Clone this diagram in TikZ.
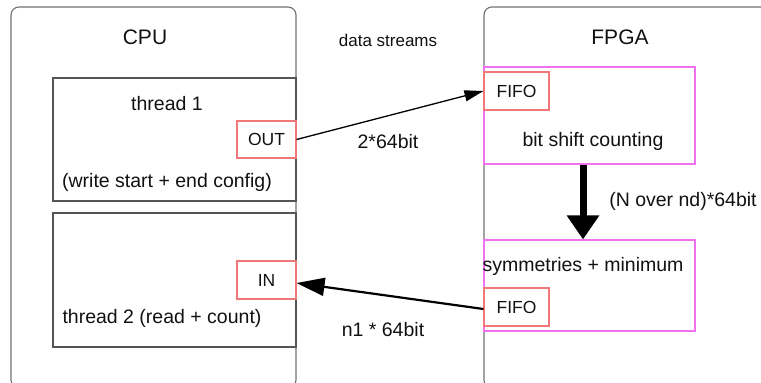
\documentclass[tikz,border=0pt]{standalone}
\usepackage{fontspec}
\setmainfont{Liberation Sans}
\usetikzlibrary{arrows.meta}
\definecolor{boxgray}{HTML}{707070}
\definecolor{thgray}{HTML}{555555}
\definecolor{fifored}{HTML}{F07878}
\definecolor{stagemag}{HTML}{F070F0}
\definecolor{txt}{HTML}{111111}
\tikzset{
  x=1pt, y=-1pt,
  outer/.style={draw=boxgray, line width=1.1pt, rounded corners=8pt, rectangle, inner sep=0pt},
  thread/.style={draw=thgray, line width=1.1pt, rectangle, inner sep=0pt},
  port/.style={draw=fifored, line width=1.1pt, rectangle, inner sep=0pt, text=txt, font=\fontsize{17.5}{20}\selectfont},
  stage/.style={draw=stagemag, line width=1.1pt, rectangle, inner sep=0pt},
  title/.style={text=txt, font=\fontsize{21}{24}\selectfont, inner sep=0pt},
  lbl/.style={text=txt, font=\fontsize{19.5}{22}\selectfont, inner sep=0pt},
  small/.style={text=txt, font=\fontsize{17}{19}\selectfont, inner sep=0pt},
}
\begin{document}
\begin{tikzpicture}
\useasboundingbox (0,0) rectangle (761,383);
\clip (0,0) rectangle (761,383);
% outer boxes
\node[outer, minimum width=285pt, minimum height=381pt] (cpu) at (153.5,197.5) {};
\node[outer, minimum width=291pt, minimum height=381pt] (fpga) at (629.5,197.5) {};
\node[title] (cputitle) at (145,37) {CPU};
\node[title] (fpgatitle) at (620,37) {FPGA};
% threads
\node[thread, minimum width=243pt, minimum height=123pt] (th1) at (174.5,139.5) {};
\node[thread, minimum width=243pt, minimum height=134pt] (th2) at (174.5,280) {};
\node[lbl] (th1t) at (167,104) {thread 1};
\node[lbl] (th1c) at (167,182) {(write start + end config)};
\node[lbl] (th2t) at (162,318) {thread 2 (read + count)};
\node[port, minimum width=59pt, minimum height=37pt] (out) at (266.5,139.5) {OUT};
\node[port, minimum width=59pt, minimum height=38pt] (in) at (266.5,280) {IN};
% FPGA stages
\node[stage, minimum width=211pt, minimum height=97pt] (s1) at (589.5,115.5) {};
\node[stage, minimum width=211pt, minimum height=91pt] (s2) at (589.5,285.5) {};
\node[port, minimum width=65pt, minimum height=38pt] (f1) at (516.5,91) {FIFO};
\node[port, minimum width=65pt, minimum height=38pt] (f2) at (516.5,307) {FIFO};
\node[lbl] (s1t) at (593,141) {bit shift counting};
\node[lbl] (s2t) at (583,266) {symmetries + minimum};
% labels
\node[small] (ds) at (388,40) {data streams};
\node[lbl] (l1) at (388,142) {2*64bit};
\node[lbl] (l2) at (383,330) {n1 * 64bit};
\node[lbl] (l3) at (683,201) {(N over nd)*64bit};
% connectors
\draw[line width=1.3pt, -{Triangle[length=19pt, width=11pt]}] (out.east) -- (f1.west);
\draw[line width=2.2pt, -{Triangle[length=28pt, width=18pt]}] ([yshift=-2pt]f2.west) -- ([yshift=-3pt]in.east);
\coordinate (tx) at (583,0);
\draw[line width=7pt, -{Triangle[length=24pt, width=31pt]}] (tx |- s1.south) -- (tx |- s2.north);
\end{tikzpicture}
\end{document}
